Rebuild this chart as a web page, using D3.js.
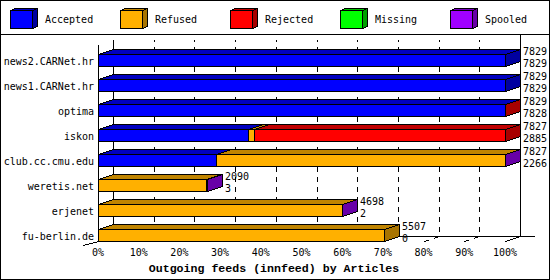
<!DOCTYPE html>
<meta charset="utf-8">
<style>
  body { margin: 0; background: #fff; }
  svg { display: block; }
  text { font-family: "DejaVu Sans Mono", monospace; font-size: 10px; fill: #000; }
</style>
<svg width="550" height="280"></svg>
<script src="https://d3js.org/d3.v7.min.js"></script>
<script>
  var categories = ["news2.CARNet.hr", "news1.CARNet.hr", "optima", "iskon",
                    "club.cc.cmu.edu", "weretis.net", "erjenet", "fu-berlin.de"];
  var offered  = [7829, 7829, 7829, 7827, 7827, 2090, 4698, 5507];
  var accepted = [7829, 7829, 7828, 2885, 2266, 3, 2, 0];
  var refused  = [0, 0, 0, 120, 5556, 2082, 4692, 5507];
  var rejected = [0, 0, 1, 4822, 0, 0, 0, 0];
  var missing  = [0, 0, 0, 0, 0, 0, 0, 0];
  var spooled  = [0, 0, 0, 0, 5, 5, 4, 0];
  var seriesNames = ["Accepted", "Refused", "Rejected", "Missing", "Spooled"];
  var ticks = [0, 0.1, 0.2, 0.3, 0.4, 0.5, 0.6, 0.7, 0.8, 0.9, 1];

  var colors = ["#0000ff", "#ffb000", "#ff0000", "#00ff00", "#a000ff"];
  var tops   = ["#0000c0", "#c08400", "#c00000", "#00c000", "#7800c0"];
  var sides  = ["#0000a0", "#a87400", "#a80000", "#00a000", "#6800a8"];

  var series = [accepted, refused, rejected, missing, spooled];
  var maxVal = d3.max(offered);
  var DX = 15, DY = 5;

  var svg = d3.select("svg");
  svg.append("rect").attr("x", 0.5).attr("y", 0.5).attr("width", 549).attr("height", 279)
    .attr("fill", "#fff").attr("stroke", "#000");
  svg.append("line").attr("x1", 0).attr("x2", 550).attr("y1", 34.5).attr("y2", 34.5)
    .attr("stroke", "#000");

  // legend
  var leg = svg.append("g").attr("shape-rendering", "crispEdges");
  seriesNames.forEach(function(name, i) {
    var lx = 10 + i * 110;
    var g = leg.append("g").attr("transform", "translate(" + lx + ",0)");
    g.append("polygon").attr("points", [[0.5,10.5],[5.5,8.5],[27.5,8.5],[22.5,10.5]].join(" "))
      .attr("fill", tops[i]).attr("stroke", "#000");
    g.append("polygon").attr("points", [[22.5,10.5],[27.5,8.5],[27.5,26.5],[22.5,28.5]].join(" "))
      .attr("fill", sides[i]).attr("stroke", "#000");
    g.append("rect").attr("x", 0.5).attr("y", 10.5).attr("width", 22).attr("height", 18)
      .attr("fill", colors[i]).attr("stroke", "#000");
    g.append("text").attr("x", 35).attr("y", 22.5).text(name);
  });

  var x = d3.scaleLinear().domain([0, 1]).range([98, 505]);
  var y = d3.scaleBand().domain(categories).range([47, 247])
    .paddingInner(0.52).paddingOuter(0.26);

  var plot = svg.append("g").attr("shape-rendering", "crispEdges");
  var floorY = 236.5, frontY = 241.5;

  // grid lines (dashed), running from the front tick back and up the wall
  plot.selectAll("path.grid").data(ticks.slice(1, -1)).enter().append("path")
    .attr("class", "grid")
    .attr("d", function(t) {
      var px = Math.round(x(t)) + 0.5;
      return "M" + px + "," + frontY + "L" + (px + DX) + "," + floorY + "L" + (px + DX) + ",40";
    })
    .attr("fill", "none").attr("stroke", "#000").attr("stroke-dasharray", "5,5");

  // walls and axes
  var x0 = Math.round(x(0)) + 0.5, x1 = Math.round(x(1)) + 0.5;
  plot.append("path")
    .attr("d", "M" + (x0 + DX) + ",40L" + (x0 + DX) + "," + floorY + "L535," + floorY +
      "M" + (x1 + DX) + ",35L" + (x1 + DX) + "," + floorY + "L" + x1 + "," + frontY +
      "M" + x0 + ",45L" + x0 + "," + frontY + "L" + (x0 - DX) + "," + (frontY + 4))
    .attr("fill", "none").attr("stroke", "#000");

  // bars
  categories.forEach(function(cat, ci) {
    var yt = Math.round(y(cat)) + 0.5, yb = yt + y.bandwidth();
    var g = plot.append("g");
    var acc = 0;
    series.forEach(function(s, si) {
      var v = s[ci];
      if (!v) return;
      var a = Math.round(x(acc / maxVal)) + 0.5;
      acc += v;
      var b = Math.round(x(acc / maxVal)) + 0.5;
      g.append("polygon")
        .attr("points", [[a, yt], [a + DX, yt - DY], [b + DX, yt - DY], [b, yt]].join(" "))
        .attr("fill", tops[si]).attr("stroke", "#000");
      g.append("polygon")
        .attr("points", [[b, yt], [b + DX, yt - DY], [b + DX, yb - DY], [b, yb]].join(" "))
        .attr("fill", sides[si]).attr("stroke", "#000");
      g.append("rect").attr("x", a).attr("y", yt).attr("width", b - a).attr("height", yb - yt)
        .attr("fill", colors[si]).attr("stroke", "#000");
    });
    var lx = Math.round(x(offered[ci] / maxVal)) + DX + 3;
    svg.append("text").attr("x", lx).attr("y", yt + 0.5).text(offered[ci]);
    svg.append("text").attr("x", lx).attr("y", yb + 0.5).text(accepted[ci]);
    svg.append("text").attr("x", 94).attr("y", yt + 10).attr("text-anchor", "end").text(cat);
  });

  // tick labels
  svg.selectAll("text.tick").data(ticks).enter().append("text")
    .attr("class", "tick")
    .attr("x", function(t) { return x(t); })
    .attr("y", 256)
    .attr("text-anchor", "middle")
    .text(d3.format(".0%"));

  svg.append("text").attr("x", 274).attr("y", 272).attr("text-anchor", "middle")
    .style("font-family", "'Liberation Mono', monospace").style("font-size", "11.6px")
    .style("font-weight", "bold")
    .text("Outgoing feeds (innfeed) by Articles");
</script>
